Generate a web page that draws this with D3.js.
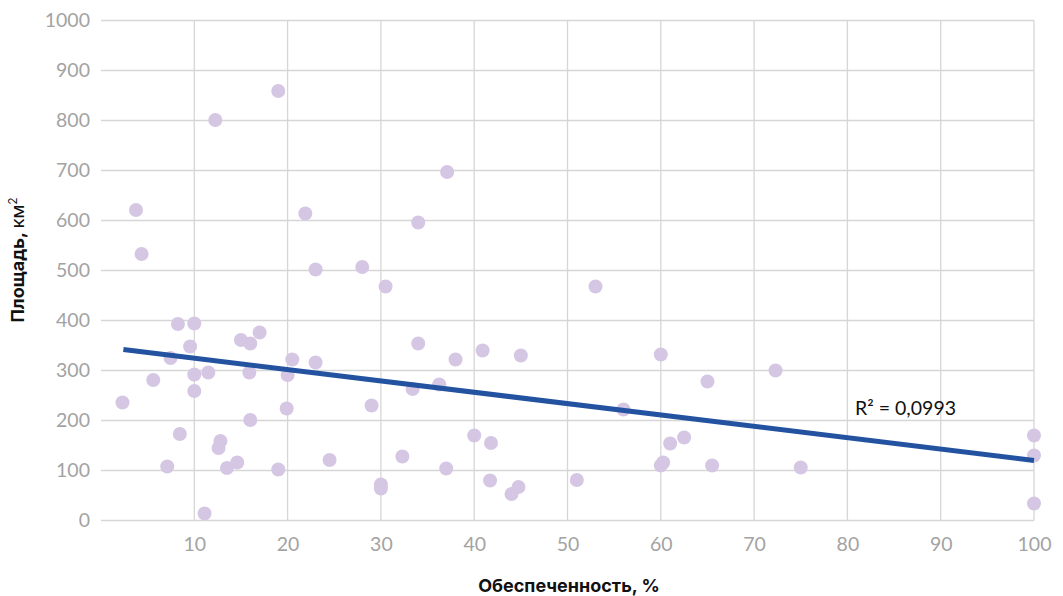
<!DOCTYPE html>
<html>
<head>
<meta charset="utf-8">
<script src="https://cdn.jsdelivr.net/npm/d3@7"></script>
<style>
  html, body { margin: 0; padding: 0; background: #ffffff; }
  svg { display: block; }
</style>
</head>
<body>
<svg id="chart" width="1063" height="596"></svg>
<script>
// Обеспеченность (%) и площадь (км²) по объектам
const provision = [2.3, 3.75, 4.35, 5.6, 7.1, 7.45, 8.25, 8.45, 9.55, 10.0, 10.0, 10.0,
  11.1, 11.5, 12.6, 12.8, 13.5, 14.6, 15.0, 16.0, 15.9, 16.0, 17.0, 19.0, 19.0, 12.25,
  20.0, 19.9, 20.5, 21.9, 23.0, 23.0, 24.5, 28.0, 37.1, 34.0, 30.5, 53.0, 34.0, 38.0,
  40.9, 45.0, 60.0, 33.4, 36.25, 29.0, 56.0, 40.0, 41.8, 61.0, 62.5, 32.3, 37.0, 60.25,
  60.0, 30.0, 30.0, 41.7, 44.75, 44.0, 51.0, 65.0, 72.3, 65.5, 75.0, 100, 100, 100];
const area = [236, 621, 533, 281, 108, 325, 393, 173, 348, 394, 292, 259,
  14, 296, 145, 159, 105, 116, 361, 354, 296, 201, 376, 102, 859, 801,
  291, 224, 322, 614, 502, 316, 121, 507, 697, 596, 468, 468, 354, 322,
  340, 330, 332, 263, 272, 230, 222, 170, 155, 154, 166, 128, 104, 116,
  110, 72, 64, 80, 67, 53, 81, 278, 300, 110, 106, 170, 130, 34];

// Линия тренда (линейная) и коэффициент детерминации
const trendX = [2.4, 100];
const trendY = [342, 120];
const r2Label = "R² = 0,0993";

const xTicks = [10, 20, 30, 40, 50, 60, 70, 80, 90, 100];
const yTicks = [0, 100, 200, 300, 400, 500, 600, 700, 800, 900, 1000];
const xTitle = "Обеспеченность, %";
const yTitle = "Площадь, км";

const svg = d3.select("#chart");
const plotLeft = 101, plotRight = 1034, plotTop = 20.5, plotBottom = 520.5;

const x = d3.scaleLinear().domain([0, 100]).range([plotLeft, plotRight]);
const y = d3.scaleLinear().domain([0, 1000]).range([plotBottom, plotTop]);

const gridColor = "#d6d6d6";
const tickColor = "#a3a3a3";
const tickFont = "Lato, 'Open Sans', sans-serif";

// Горизонтальная сетка
svg.append("g")
  .selectAll("line")
  .data(yTicks)
  .join("line")
  .attr("x1", plotLeft).attr("x2", plotRight)
  .attr("y1", d => y(d)).attr("y2", d => y(d))
  .attr("stroke", gridColor)
  .attr("stroke-width", 1.3);

// Вертикальная сетка
svg.append("g")
  .selectAll("line")
  .data(xTicks)
  .join("line")
  .attr("x1", d => x(d)).attr("x2", d => x(d))
  .attr("y1", plotTop).attr("y2", plotBottom)
  .attr("stroke", gridColor)
  .attr("stroke-width", 1.3);

// Подписи оси Y
const yAxis = d3.axisLeft(y).tickValues(yTicks).tickSize(0).tickPadding(11).tickFormat(d3.format("d"));
const gy = svg.append("g").attr("transform", `translate(${plotLeft},0)`).call(yAxis);
gy.select(".domain").remove();
gy.selectAll("text")
  .attr("fill", tickColor)
  .style("font-family", tickFont)
  .style("font-size", "19.5px");

// Подписи оси X
const xAxis = d3.axisBottom(x).tickValues(xTicks).tickSize(0).tickPadding(17).tickFormat(d3.format("d"));
const gx = svg.append("g").attr("transform", `translate(0,${plotBottom})`).call(xAxis);
gx.select(".domain").remove();
gx.selectAll("text")
  .attr("fill", tickColor)
  .style("font-family", tickFont)
  .style("font-size", "19.5px");

// Точки
const pts = provision.map((p, i) => ({ p, a: area[i] }));
svg.append("g")
  .selectAll("circle")
  .data(pts)
  .join("circle")
  .attr("cx", d => x(d.p))
  .attr("cy", d => y(d.a))
  .attr("r", 7)
  .attr("fill", "#d5c7e3");

// Линия тренда
svg.append("path")
  .datum(trendX.map((v, i) => [v, trendY[i]]))
  .attr("d", d3.line().x(d => x(d[0])).y(d => y(d[1])))
  .attr("fill", "none")
  .attr("stroke", "#2353a0")
  .attr("stroke-width", 5);

// Подпись R²
svg.append("text")
  .attr("x", 855)
  .attr("y", 415)
  .attr("fill", "#111")
  .style("font-family", tickFont)
  .style("font-size", "19.5px")
  .text(r2Label);

// Заголовок оси X
svg.append("text")
  .attr("x", 569)
  .attr("y", 592)
  .attr("text-anchor", "middle")
  .attr("fill", "#111")
  .style("font-family", "Inter, 'Open Sans', sans-serif")
  .style("font-weight", "700")
  .style("font-size", "18px")
  .text(xTitle);

// Заголовок оси Y
const yt = svg.append("text")
  .attr("transform", "translate(24,260) rotate(-90)")
  .attr("text-anchor", "middle")
  .attr("fill", "#111")
  .style("font-family", "Inter, 'Open Sans', sans-serif")
  .style("font-size", "18px");
yt.append("tspan").style("font-weight", "700").text("Площадь, ");
yt.append("tspan").style("font-weight", "400").text("км");
yt.append("tspan").attr("dy", -7).style("font-size", "12px").text("2");
</script>
</body>
</html>
